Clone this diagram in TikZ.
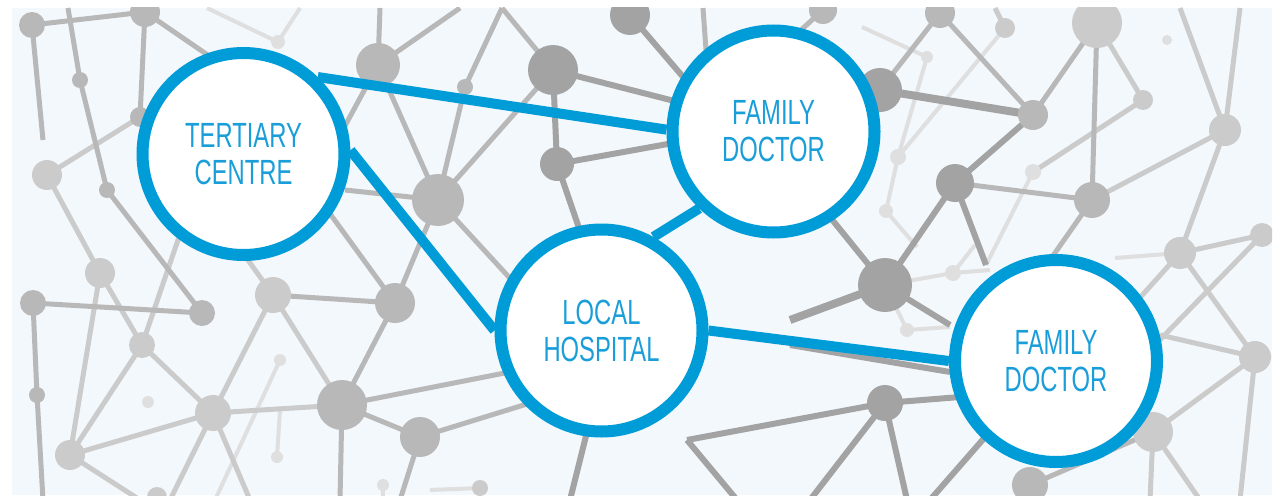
\documentclass[tikz,border=0pt]{standalone}
\usepackage{fontspec}
\newfontfamily\hubfont[FakeStretch=0.68]{Liberation Sans}
\definecolor{hubblue}{HTML}{009CD8}
\definecolor{hubtext}{HTML}{1A9ED9}
\definecolor{skybg}{HTML}{F3F8FC}
\definecolor{ngA}{HTML}{A3A3A3}
\definecolor{ngB}{HTML}{B8B8B8}
\definecolor{ngC}{HTML}{CBCBCB}
\definecolor{ngD}{HTML}{DFDFDF}
\tikzset{
  hub/.style={circle, draw=hubblue, line width=12pt, fill=white, minimum size=202pt,
    inner sep=0pt, text=hubtext, font=\hubfont\fontsize{35}{37}\selectfont, align=center},
  link/.style={draw=hubblue, line width=10pt},
  netA/.style={draw=ngA, line width=6pt},
  netB/.style={draw=ngB, line width=5pt},
  netC/.style={draw=ngC, line width=5pt},
  netD/.style={draw=ngD, line width=4pt},
}
\newcommand\netdot[3]{\fill[#3] (#1) circle[radius=#2pt];}
\begin{document}
\begin{tikzpicture}[x=1pt,y=-1pt]
\useasboundingbox (0,0) rectangle (1276,495);
\fill[white] (0,0) rectangle (1276,495);
\fill[skybg] (12,8) rectangle (1272,495);
\begin{scope}
\clip (12,8) rectangle (1272,495);
% network points
\foreach \n/\x/\y in {a1/32/25, a2/145/12, a3/80/80, a4/47/175, a5/107/190, a6/278/42,
  a7/378/65, a8/438/200, a9/465/87, a10/553/70, a11/557/164, a12/630/15, a13/823/10, a14/140/117,
  c1/880/90, c2/940/13, c3/1005/28, c4/1097/23, c5/1167/40, c6/1033/115, c7/1143/100,
  c8/1225/130, c9/955/183, c10/1033/172, c11/1092/200, c12/898/157, c13/927/57, c14/886/211,
  c15/1180/253, c16/1262/235, d1/885/285, d2/953/273, d3/907/330, d4/885/403, e1/687/440,
  f2/1255/357, f3/1153/432, f4/1030/485,
  b1/100/273, b2/33/303, b3/202/313, b4/142/345, b5/273/295, b6/395/303, b7/342/405,
  b8/213/413, b9/420/437, b10/70/455, b11/37/395, b12/148/402, b13/280/360, b14/277/457,
  b15/383/485, b16/157/497, b17/480/488}
  {\coordinate (\n) at (\x,\y);}
\foreach \n/\x/\y in {x1/43/140, x2/68/8, x3/215/60, x4/207/8, x5/300/8, x6/380/8, x7/460/8,
  x8/340/135, x9/345/190, x10/530/300, x11/502/8, x12/690/105, x13/690/140, x14/590/260,
  x15/690/85, x16/703/8, x17/706/50, x18/790/40, x19/995/8, x20/986/265, x22/1050/260,
  x23/1180/8, x24/1240/8, x25/1115/258, x26/1120/320, x27/1150/350, x28/1240/500,
  x29/1160/335, x30/1200/500, x31/1150/500, x32/862/27, x33/917/247, x34/950/327,
  x35/975/245, x36/990/270, x37/790/320, x38/800/180, x39/950/325, x40/737/500,
  x41/960/397, x42/810/500, x43/907/500, x44/1000/420, x45/930/500, x46/790/345,
  x47/950/372, x48/590/420, x49/570/500, x50/43/500, x51/190/205, x52/140/500,
  x53/230/235, x54/320/200, x55/520/370, x56/340/500, x57/250/500, x58/170/500,
  x59/215/500, x60/540/400, x61/400/500, x62/430/490, x63/280/410, x64/383/500}
  {\coordinate (\n) at (\x,\y);}
% network edges
\foreach \p/\q in {x4/a6, a6/x5, c3/c12, c10/x20, c15/x25, x32/c13, c13/c12, c12/c14,
  c14/x33, d1/d2, d1/d3, d3/x34, d2/x35, d2/x36, b13/x59, b17/x62, b14/x63, b15/x64}
  {\draw[netD] (\p) -- (\q);}
\foreach \p/\q in {a4/a14, a4/b1, c3/x19, c4/c7, c7/c10, c8/c11, c8/x23, c8/x24, c8/c15,
  c15/c16, c15/f2, c15/x26, c16/x27, f2/f3, f2/x28, f2/x29, f3/x30, f3/x31, b1/b4, b1/b10,
  b4/x51, b4/b8, b4/b10, b10/b8, b10/x52, b8/b5, b5/b7, b5/x53, b8/b7, b8/x57, b8/x58}
  {\draw[netC] (\p) -- (\q);}
\foreach \p/\q in {a1/a2, a1/x1, x2/a3, a3/a5, a5/b3, a2/a14, a2/x3, a7/x6, a7/x7, a7/a8,
  a7/x8, a8/x9, a8/a9, a8/a10, a8/b6, a8/x10, a9/x11, a10/x11, a13/x18, x16/x17, c1/c2,
  c2/c6, c4/c6, c4/c11, c11/x22, c9/c11, b2/b3, b2/b11, b11/x50, b6/b7, b6/x54, b7/x55,
  b7/b9, b7/x56, b9/x60, b9/x61, b5/b6, f3/f4}
  {\draw[netB] (\p) -- (\q);}
\foreach \p/\q in {a10/a11, a10/x12, a11/x13, a11/x14, a12/x15, c9/c6, c9/d1, c9/x20,
  d1/x38, d1/x39, d4/e1, e1/x40, d4/x41, d4/x42, d4/x43, x44/x45, x46/x47, x48/x49}
  {\draw[netA] (\p) -- (\q);}
\draw[netA, line width=8pt] (c1) -- (c6);
\draw[netA, line width=8pt] (d1) -- (x37);
% network dots
\netdot{a1}{13}{ngB} \netdot{a2}{15}{ngB} \netdot{a3}{8}{ngB} \netdot{a4}{15}{ngC}
\netdot{a5}{8}{ngB} \netdot{a6}{7}{ngD} \netdot{a7}{22}{ngB} \netdot{a8}{26}{ngB}
\netdot{a9}{8}{ngB} \netdot{a10}{25}{ngA} \netdot{a11}{17}{ngA} \netdot{a12}{20}{ngA}
\netdot{a13}{14}{ngB} \netdot{a14}{10}{ngB}
\netdot{c1}{22}{ngA} \netdot{c2}{15}{ngB} \netdot{c3}{10}{ngC} \netdot{c4}{25}{ngC}
\netdot{c5}{5}{ngD} \netdot{c6}{15}{ngB} \netdot{c7}{10}{ngC} \netdot{c8}{16}{ngC}
\netdot{c9}{19}{ngA} \netdot{c10}{8}{ngD} \netdot{c11}{18}{ngB} \netdot{c12}{8}{ngD}
\netdot{c13}{6}{ngD} \netdot{c14}{7}{ngD} \netdot{c15}{16}{ngC} \netdot{c16}{12}{ngC}
\netdot{d1}{27}{ngA} \netdot{d2}{8}{ngD} \netdot{d3}{7}{ngD} \netdot{d4}{18}{ngA}
\netdot{f2}{16}{ngC} \netdot{f3}{20}{ngC} \netdot{f4}{18}{ngB}
\netdot{b1}{15}{ngC} \netdot{b2}{13}{ngB} \netdot{b3}{13}{ngB} \netdot{b4}{13}{ngC}
\netdot{b5}{18}{ngC} \netdot{b6}{20}{ngB} \netdot{b7}{25}{ngB} \netdot{b8}{18}{ngC}
\netdot{b9}{20}{ngB} \netdot{b10}{15}{ngC} \netdot{b11}{8}{ngB} \netdot{b12}{6}{ngD}
\netdot{b13}{6}{ngD} \netdot{b14}{6}{ngD} \netdot{b15}{6}{ngD} \netdot{b16}{10}{ngC}
\netdot{b17}{8}{ngC}
\end{scope}
% main hubs
\node[hub] (tc)  at (243.5,154)  {TERTIARY\\CENTRE};
\node[hub] (fd1) at (773.5,131.5) {FAMILY\\DOCTOR};
\node[hub] (lh)  at (601.5,330.5) {LOCAL\\HOSPITAL};
\node[hub] (fd2) at (1056,361)    {FAMILY\\DOCTOR};
\draw[link] (tc.46) -- (fd1.179);
\draw[link] (tc.2) -- (lh.180);
\draw[link] (lh.61) -- (fd1.226);
\draw[link] (lh.0) -- (fd2.180);
\end{tikzpicture}
\end{document}
